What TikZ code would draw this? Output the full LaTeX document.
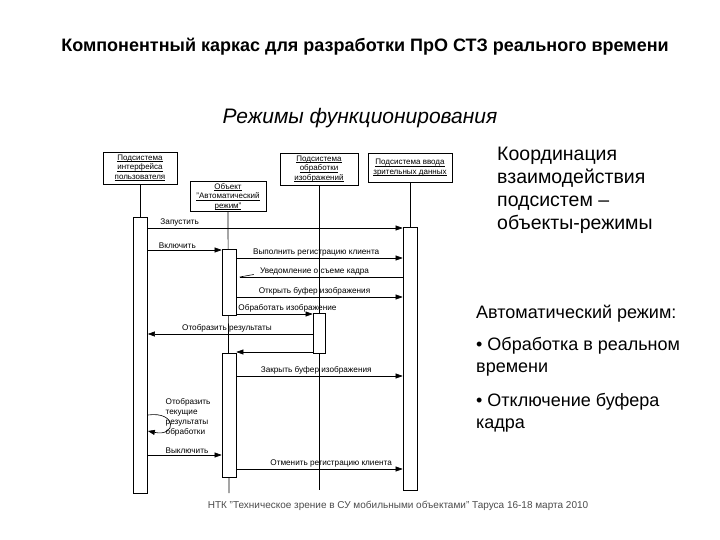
\documentclass[tikz,border=0pt]{standalone}
\usepackage{amsmath}
\usepackage{fontspec}
\setmainfont{Liberation Sans}
\usetikzlibrary{arrows.meta,positioning}

\newcommand\ulbox[1]{\underline{\smash[b]{#1}}}

\tikzset{
  obj/.style={draw, fill=white, align=center, inner sep=2pt,
    font=\fontsize{8}{9.5}\selectfont, line width=0.7pt},
  act/.style={draw, fill=white, minimum width=14pt, inner sep=0pt,
    anchor=north, line width=0.7pt},
  life/.style={line width=0.7pt},
  msg/.style={line width=0.6pt, -{Triangle[length=7pt,width=5pt]}},
  half/.style={line width=0.6pt, -{Straight Barb[harpoon,swap,length=14pt,width=5pt]}},
  lbl/.style={font=\fontsize{8.2}{9}\selectfont, inner sep=1.5pt},
  big/.style={align=left, inner sep=0pt}
}

\begin{document}
\begin{tikzpicture}[x=1pt, y=-1pt]

  \useasboundingbox[fill=white] (0,0) rectangle (720,540);

  % Headings
  \node[font=\bfseries\fontsize{18}{20}\selectfont] (title) at (365,47)
    {Компонентный каркас для разработки ПрО СТЗ реального времени};
  \node[font=\itshape\fontsize{21}{24}\selectfont] (modes) at (360,118)
    {Режимы функционирования};

  % Objects
  \node[obj, minimum width=74pt, minimum height=32pt] (ui) at (140,168)
    {\ulbox{Подсистема}\\\ulbox{интерфейса}\\\ulbox{пользователя}};
  \node[obj, minimum width=76pt, minimum height=29pt] (auto) at (228,196.5)
    {\ulbox{Объект}\\\ulbox{"Автоматический}\\\ulbox{режим"}};
  \node[obj, minimum width=78pt, minimum height=32pt] (proc) at (319,169)
    {\ulbox{Подсистема}\\\ulbox{обработки}\\\ulbox{изображений}};
  \node[obj, minimum width=84pt, minimum height=29pt] (vis) at (410,167.5)
    {\ulbox{Подсистема ввода}\\\ulbox{зрительных данных}};

  % Lifelines
  \draw[life] (ui.south) -- (140,217);
  \draw[life] (auto.south) -- (229,493);
  \draw[life] (proc.south) -- (319,490);
  \draw[life] (vis.south) -- (410,227);

  % Activation bars
  \node[act, minimum height=276pt] (a1) at (140.5,217) {};
  \node[act, minimum height=66pt] (a2) at (229,249) {};
  \node[act, minimum height=124pt] (a2b) at (229,353) {};
  \node[act, minimum width=12pt, minimum height=40pt] (a3) at (319,313) {};
  \node[act, minimum height=263pt] (a4) at (410,227) {};

  % Messages
  \draw[msg] (a1.east |- 0,228) -- node[lbl, above, pos=0.125] {Запустить} (a4.west |- 0,228);
  \draw[msg] (a1.east |- 0,250) -- node[lbl, above, pos=0.4] {Включить} (a2.west |- 0,250);
  \draw[msg] (a2.east |- 0,258) -- node[lbl, above, pos=0.48] {Выполнить регистрацию клиента} (a4.west |- 0,258);
  \draw[half] (a4.west |- 0,277) -- node[lbl, above, pos=0.53] {Уведомление о съеме кадра} (a2.east |- 0,277);
  \draw[msg] (a2.east |- 0,297) -- node[lbl, above, pos=0.47] {Открыть буфер изображения} (a4.west |- 0,297);
  \draw[msg] (a2.east |- 0,314) -- node[lbl, above, pos=0.67] {Обработать изображение} (a3.west |- 0,314);
  \draw[msg] (a3.west |- 0,334) -- node[lbl, above, pos=0.52] {Отобразить результаты} (a1.east |- 0,334);
  \draw[msg] (a3.west |- 0,352) -- (a2b.east |- 0,352);
  \draw[msg] (a2b.east |- 0,376) -- node[lbl, above, pos=0.48] {Закрыть буфер изображения} (a4.west |- 0,376);

  % Self message
  \draw[msg] (a1.east |- 0,415) .. controls (177,411) and (177,437) .. (a1.east |- 0,431);
  \node[lbl, anchor=north west, align=left, font=\fontsize{8.2}{10}\selectfont] (show) at (164,397)
    {Отобразить\\текущие\\результаты\\обработки};

  \draw[msg] (a1.east |- 0,455) -- node[lbl, above, pos=0.53] {Выключить} (a2b.west |- 0,455);
  \draw[msg] (a2b.east |- 0,469) -- node[lbl, above, pos=0.57] {Отменить регистрацию клиента} (a4.west |- 0,469);

  % Right column
  \node[big, anchor=north west, font=\fontsize{19.5}{23}\selectfont] (coord) at (497,147)
    {Координация\\взаимодействия\\подсистем –\\объекты-режимы};
  \node[big, anchor=north west, font=\fontsize{18}{22}\selectfont] (mode) at (476,305) {Автоматический режим:};
  \node[big, anchor=north west, font=\fontsize{18}{22}\selectfont] (rt) at (476,337) {• Обработка в реальном\\времени};
  \node[big, anchor=north west, font=\fontsize{18}{22}\selectfont] (buf) at (476,393) {• Отключение буфера\\кадра};

  % Footer
  \node[font=\fontsize{10}{12}\selectfont, text=black!70] (foot) at (398,506)
    {НТК "Техническое зрение в СУ мобильными объектами" Таруса 16-18 марта 2010};

\end{tikzpicture}
\end{document}
